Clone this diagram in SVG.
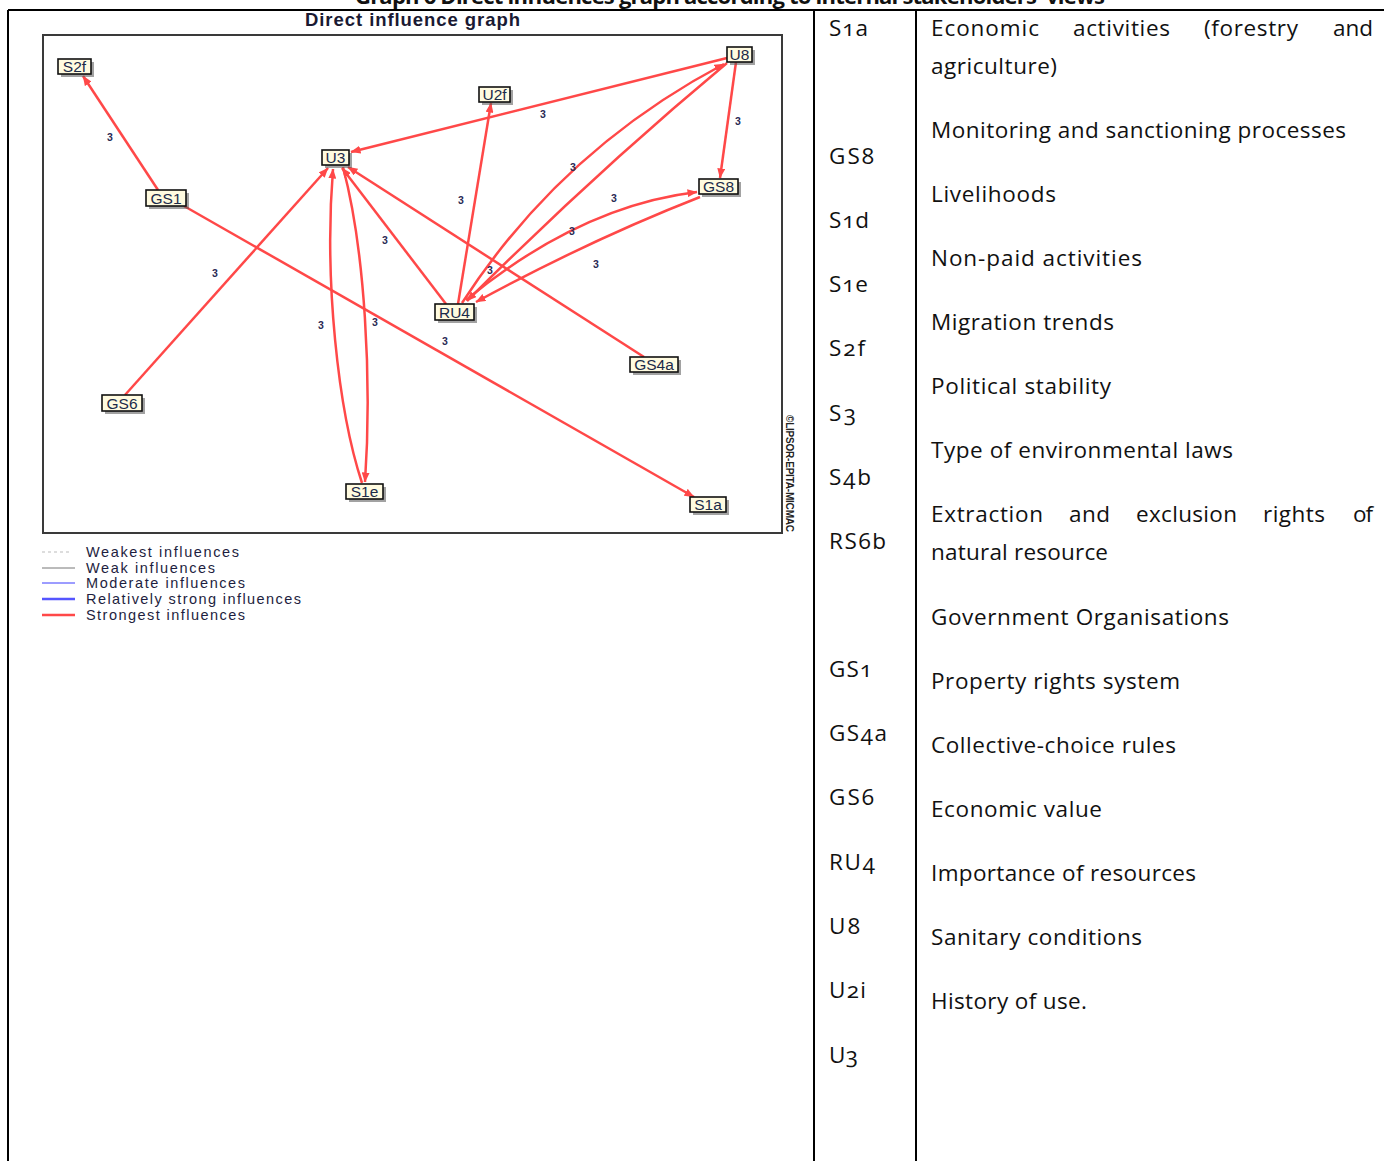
<svg xmlns="http://www.w3.org/2000/svg" width="1384" height="1161" viewBox="0 0 1384 1161">
<style>
.tbl{stroke:#000;stroke-width:2;fill:none}
.tx{font-family:"Open Sans","Noto Sans",sans-serif;font-size:22.5px;fill:#111}
.code{font-variant-numeric:oldstyle-nums}
.ttl{font-family:"Open Sans","Noto Sans",sans-serif;font-size:22px;font-weight:bold;fill:#111}
.gt{font-family:"Liberation Sans",Arial,sans-serif;font-size:18.5px;font-weight:bold;fill:#1a1a33}
.frame{fill:#fff;stroke:#3a3a3a;stroke-width:2}
.sh{fill:#555;opacity:.55}
.box{fill:#fffbe0;stroke:#111;stroke-width:1.6}
.nt{font-family:"Liberation Sans",Arial,sans-serif;font-size:15.5px;fill:#1b2a4a;text-anchor:middle}
.e{fill:none;stroke:#ff4848;stroke-width:2.5;marker-end:url(#ah)}
.lb{font-family:"Liberation Sans",Arial,sans-serif;font-size:10.5px;font-weight:bold;fill:#2a2a55;text-anchor:middle}
.lg{font-family:"Liberation Sans",Arial,sans-serif;font-size:14.5px;fill:#1e1e40}
.wm{font-family:"Liberation Sans",Arial,sans-serif;font-size:10px;font-weight:bold;fill:#222}
</style>
<defs>
<marker id="ah" viewBox="0 0 10 8" refX="9.5" refY="4" markerWidth="10" markerHeight="8" markerUnits="userSpaceOnUse" orient="auto">
<path d="M0,0 L10,4 L0,8 z" fill="#ff4848"/>
</marker>
</defs>
<rect width="1384" height="1161" fill="#fff"/>

<!-- page title (clipped at top, as in the reference) -->
<text class="ttl" x="355" y="4" textLength="750">Graph 6 Direct influences graph according to internal stakeholders' views</text>

<g id="table">
<line class="tbl" x1="8" y1="10" x2="1384" y2="10"/>
<line class="tbl" x1="8" y1="10" x2="8" y2="1161"/>
<line class="tbl" x1="814" y1="10" x2="814" y2="1161"/>
<line class="tbl" x1="916" y1="10" x2="916" y2="1161"/>
</g>

<text class="gt" x="305" y="26" textLength="215">Direct influence graph</text>
<rect class="frame" x="43" y="35" width="739" height="498"/>
<text class="wm" transform="translate(786,415) rotate(90)" textLength="117">©LIPSOR-EPITA-MICMAC</text>

<g id="connectors">
<path class="e" d="M158,190 L83,76"/>
<path class="e" d="M184,206 L694,497"/>
<path class="e" d="M125,395 L328,168"/>
<path class="e" d="M727,58 L351,152"/>
<path class="e" d="M446,304 L342,168"/>
<path class="e" d="M644,357 L348,167"/>
<path class="e" d="M362,483 C338,410 324,280 333,169"/>
<path class="e" d="M343,167 C365,250 372,380 365,482"/>
<path class="e" d="M458,304 L491,103"/>
<path class="e" d="M462,303 Q561,150 724,64"/>
<path class="e" d="M727,63 Q596,172 467,301"/>
<path class="e" d="M466,300 Q580,206 697,192"/>
<path class="e" d="M700,197 Q590,240 476,302"/>
<path class="e" d="M736,62 L720,178"/>
<text class="lb" x="110" y="141">3</text>
<text class="lb" x="543" y="118">3</text>
<text class="lb" x="738" y="125">3</text>
<text class="lb" x="573" y="171">3</text>
<text class="lb" x="614" y="202">3</text>
<text class="lb" x="461" y="204">3</text>
<text class="lb" x="385" y="244">3</text>
<text class="lb" x="572" y="235">3</text>
<text class="lb" x="596" y="268">3</text>
<text class="lb" x="215" y="277">3</text>
<text class="lb" x="490" y="274">3</text>
<text class="lb" x="321" y="329">3</text>
<text class="lb" x="375" y="326">3</text>
<text class="lb" x="445" y="345">3</text>
</g>

<g id="node-S2f"><rect class="sh" x="61" y="62" width="33" height="15"/><rect class="box" x="58" y="59" width="33" height="15"/><text class="nt" x="74.5" y="72">S2f</text></g>
<g id="node-U2f"><rect class="sh" x="482" y="90" width="31" height="15"/><rect class="box" x="479" y="87" width="31" height="15"/><text class="nt" x="494.5" y="100">U2f</text></g>
<g id="node-U8"><rect class="sh" x="730" y="50" width="25" height="15"/><rect class="box" x="727" y="47" width="25" height="15"/><text class="nt" x="739.5" y="60">U8</text></g>
<g id="node-U3"><rect class="sh" x="325" y="153" width="27" height="15"/><rect class="box" x="322" y="150" width="27" height="15"/><text class="nt" x="335.5" y="163">U3</text></g>
<g id="node-GS8"><rect class="sh" x="702" y="182" width="39" height="15"/><rect class="box" x="699" y="179" width="39" height="15"/><text class="nt" x="718.5" y="192">GS8</text></g>
<g id="node-GS1"><rect class="sh" x="149" y="193" width="40" height="16"/><rect class="box" x="146" y="190" width="40" height="16"/><text class="nt" x="166" y="204">GS1</text></g>
<g id="node-RU4"><rect class="sh" x="438" y="307" width="39" height="16"/><rect class="box" x="435" y="304" width="39" height="16"/><text class="nt" x="454.5" y="318">RU4</text></g>
<g id="node-GS4a"><rect class="sh" x="633" y="360" width="48" height="15"/><rect class="box" x="630" y="357" width="48" height="15"/><text class="nt" x="654" y="370">GS4a</text></g>
<g id="node-GS6"><rect class="sh" x="105" y="398" width="40" height="16"/><rect class="box" x="102" y="395" width="40" height="16"/><text class="nt" x="122" y="409">GS6</text></g>
<g id="node-S1e"><rect class="sh" x="349" y="487" width="37" height="15"/><rect class="box" x="346" y="484" width="37" height="15"/><text class="nt" x="364.5" y="497">S1e</text></g>
<g id="node-S1a"><rect class="sh" x="693" y="500" width="36" height="15"/><rect class="box" x="690" y="497" width="36" height="15"/><text class="nt" x="708" y="510">S1a</text></g>

<g id="legend">
<line x1="42" y1="552" x2="72" y2="552" stroke="#bbb" stroke-width="1" stroke-dasharray="3,3"/>
<line x1="42" y1="568" x2="75" y2="568" stroke="#777" stroke-width="1"/>
<line x1="42" y1="583" x2="75" y2="583" stroke="#3a3aff" stroke-width="1"/>
<line x1="42" y1="599" x2="75" y2="599" stroke="#5555ff" stroke-width="2.5"/>
<line x1="42" y1="615" x2="75" y2="615" stroke="#ff4848" stroke-width="2.5"/>
<text class="lg" x="86" y="557" textLength="153">Weakest influences</text>
<text class="lg" x="86" y="573" textLength="129">Weak influences</text>
<text class="lg" x="86" y="588" textLength="159">Moderate influences</text>
<text class="lg" x="86" y="604" textLength="215">Relatively strong influences</text>
<text class="lg" x="86" y="620" textLength="159">Strongest influences</text>
</g>

<g id="codes" class="tx code">
<text x="829" y="36" textLength="39">S1a</text>
<text x="829" y="164" textLength="45">GS8</text>
<text x="829" y="228" textLength="40">S1d</text>
<text x="829" y="292" textLength="39">S1e</text>
<text x="829" y="356" textLength="36">S2f</text>
<text x="829" y="421" textLength="27">S3</text>
<text x="829" y="485" textLength="42">S4b</text>
<text x="829" y="549" textLength="57">RS6b</text>
<text x="829" y="677" textLength="43">GS1</text>
<text x="829" y="741" textLength="58">GS4a</text>
<text x="829" y="805" textLength="45">GS6</text>
<text x="829" y="870" textLength="46">RU4</text>
<text x="829" y="934" textLength="31">U8</text>
<text x="829" y="998" textLength="37">U2i</text>
<text x="829" y="1063" textLength="29">U3</text>
</g>

<g id="descriptions" class="tx">
<text x="931" y="36" textLength="108">Economic</text>
<text x="1073" y="36" textLength="97">activities</text>
<text x="1204" y="36" textLength="94">(forestry</text>
<text x="1333" y="36" textLength="40">and</text>
<text x="931" y="74" textLength="126">agriculture)</text>
<text x="931" y="138" textLength="415">Monitoring and sanctioning processes</text>
<text x="931" y="202" textLength="125">Livelihoods</text>
<text x="931" y="266" textLength="211">Non-paid  activities</text>
<text x="931" y="330" textLength="183">Migration trends</text>
<text x="931" y="394" textLength="180">Political stability</text>
<text x="931" y="458" textLength="302">Type of environmental laws</text>
<text x="931" y="522" textLength="112">Extraction</text>
<text x="1069" y="522" textLength="41">and</text>
<text x="1136" y="522" textLength="101">exclusion</text>
<text x="1263" y="522" textLength="62">rights</text>
<text x="1353" y="522" textLength="20">of</text>
<text x="931" y="560" textLength="177">natural resource</text>
<text x="931" y="625" textLength="298">Government Organisations</text>
<text x="931" y="689" textLength="249">Property rights system</text>
<text x="931" y="753" textLength="245">Collective-choice rules</text>
<text x="931" y="817" textLength="171">Economic value</text>
<text x="931" y="881" textLength="265">Importance of resources</text>
<text x="931" y="945" textLength="211">Sanitary conditions</text>
<text x="931" y="1009" textLength="156">History of use.</text>
</g>
</svg>
